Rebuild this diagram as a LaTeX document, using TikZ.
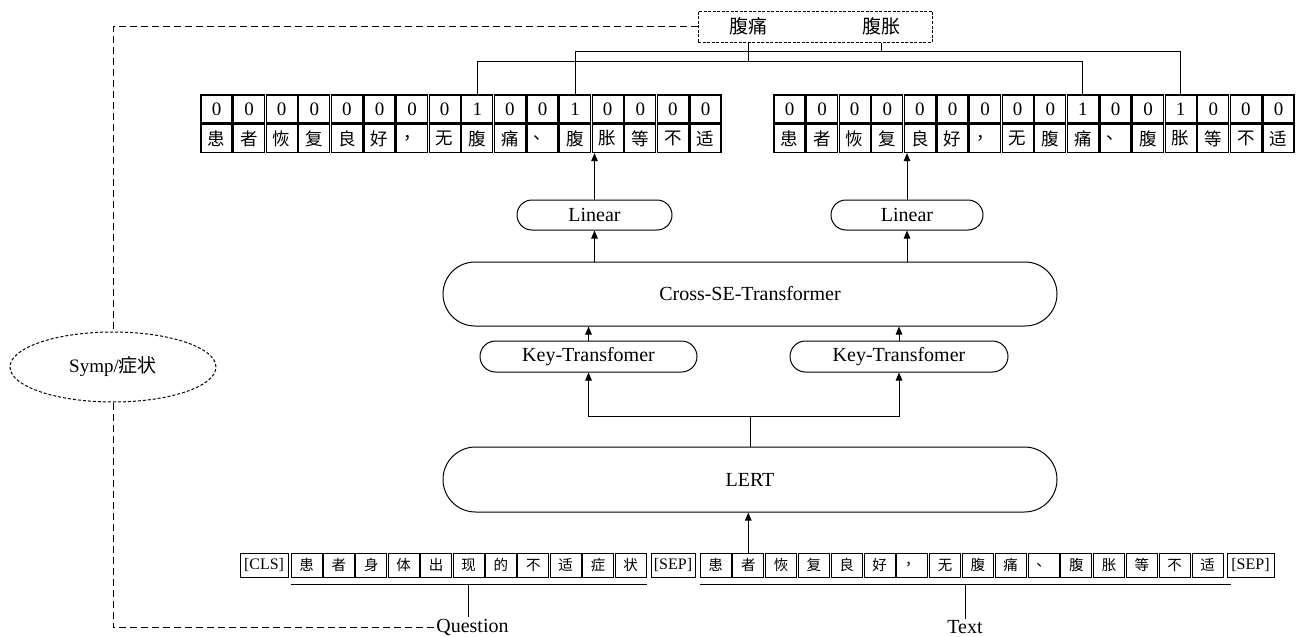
\documentclass[tikz,border=0pt]{standalone}
\usepackage{fontspec}
\setmainfont{Liberation Serif}
\newfontfamily\cjk{Noto Sans CJK SC}
\usetikzlibrary{shapes.misc,shapes.geometric,arrows.meta,calc}
\begin{document}
\begin{tikzpicture}[x=1pt,y=-1pt,
  ln/.style={line width=1pt},
  arr/.style={line width=1pt,-{Triangle[length=8pt,width=6.5pt]}},
  cell/.style={draw,line width=1.2pt,minimum width=31pt,minimum height=28pt,inner sep=0pt,font=\fontsize{19}{19}\selectfont},
  ccell/.style={cell,font=\fontsize{17.5}{17.5}\selectfont\cjk},
  bcell/.style={draw,line width=1pt,minimum width=31pt,minimum height=24pt,inner sep=0pt,font=\fontsize{14.5}{14.5}\selectfont\cjk},
  tcell/.style={bcell,font=\fontsize{16}{16}\selectfont},
  rbox/.style={draw,rounded rectangle,line width=1pt,inner sep=0pt,font=\fontsize{20}{20}\selectfont},
  lab/.style={inner sep=2pt,font=\fontsize{20}{20}\selectfont},
  dsh/.style={line width=1pt,dash pattern=on 7pt off 4pt},
]
\useasboundingbox (0,0) rectangle (1299,637);

% ---- top label box ----
\node[draw,line width=1pt,dash pattern=on 3pt off 1.5pt,minimum width=234pt,minimum height=31pt] (ents) at (815,26.5) {};
\node[lab,font=\fontsize{19}{19}\selectfont\cjk] (t1) at (748,26) {腹痛};
\node[lab,font=\fontsize{19}{19}\selectfont\cjk] (t2) at (881,26) {腹胀};

% ---- top token rows ----
\foreach \d [count=\i from 0] in {0,0,0,0,0,0,0,0,1,0,0,1,0,0,0,0}
  \node[cell] (L\i) at ({216.5+32.6*\i},109) {\d};
\foreach \c [count=\i from 0] in {患,者,恢,复,良,好,，,无,腹,痛,、,腹,胀,等,不,适}
  \node[ccell] (LC\i) at ({216.5+32.6*\i},138.5) {\c};
\foreach \d [count=\i from 0] in {0,0,0,0,0,0,0,0,0,1,0,0,1,0,0,0}
  \node[cell] (R\i) at ({789.5+32.6*\i},109) {\d};
\foreach \c [count=\i from 0] in {患,者,恢,复,良,好,，,无,腹,痛,、,腹,胀,等,不,适}
  \node[ccell] (RC\i) at ({789.5+32.6*\i},138.5) {\c};

% ---- tree from labels to rows ----
\coordinate (h1) at ($(L8.north)+(0,-33)$);
\coordinate (h2) at ($(L11.north)+(0,-43)$);
\draw[ln] (L8.north) -- (h1) -- (h1 -| R9.north) -- (R9.north);
\draw[ln] (L11.north) -- (h2) -- (h2 -| R12.north) -- (R12.north);
\draw[ln] (ents.south -| t1) -- (h1 -| t1);
\draw[ln] (ents.south -| t2) -- (h2 -| t2);

% ---- model blocks ----
\node[rbox,minimum width=155pt,minimum height=30pt] (lin1) at (594.5,215) {Linear};
\node[rbox,minimum width=152pt,minimum height=30pt] (lin2) at (907,215) {Linear};
\draw[arr] (lin1.north) -- (lin1.north |- LC12.south);
\draw[arr] (lin2.north) -- (lin2.north |- RC4.south);

\node[rbox,minimum width=614pt,minimum height=64pt] (cross) at (750,294) {Cross-SE-Transformer};
\draw[arr] (cross.north -| lin1) -- (lin1.south);
\draw[arr] (cross.north -| lin2) -- (lin2.south);

\node[rbox,minimum width=217pt,minimum height=31pt] (key1) at (588.5,356.5) {Key-Transfomer};
\node[rbox,minimum width=218pt,minimum height=31pt] (key2) at (899,356.5) {Key-Transfomer};
\draw[arr] (key1.north) -- (key1.north |- cross.south);
\draw[arr] (key2.north) -- (key2.north |- cross.south);

\node[rbox,minimum width=614pt,minimum height=65pt] (lert) at (750,479.5) {LERT};
\coordinate (j) at ($(lert.north)+(0,-30)$);
\draw[ln] (lert.north) -- (j);
\draw[arr] (j) -| (key1.south);
\draw[arr] (j) -| (key2.south);

% ---- bottom input row ----
\node[tcell,minimum width=48pt] (cls) at (264,565) {[CLS]};
\foreach \c [count=\i from 0] in {患,者,身,体,出,现,的,不,适,症,状}
  \node[bcell] (Q\i) at ({306.5+32.4*\i},565) {\c};
\node[tcell,minimum width=44pt] (sep1) at (673,565) {[SEP]};
\foreach \c [count=\i from 0] in {患,者,恢,复,良,好,，,无,腹,痛,、,腹,胀,等,不,适}
  \node[bcell] (T\i) at ({715.5+32.8*\i},565) {\c};
\node[tcell,minimum width=47pt] (sep2) at (1250.5,565) {[SEP]};

\draw[arr] (T1.north) -- (T1.north |- lert.south);

% ---- underlines and labels ----
\coordinate (qa) at ($(Q0.south west)+(0,7)$);
\coordinate (qb) at (qa -| Q10.south east);
\coordinate (qm) at ($(qa)!0.5!(qb)$);
\draw[ln] (qa) -- (qb);
\node[lab] (qlab) at ($(qm)+(4,43)$) {Question};
\draw[ln] (qm) -- (qm |- qlab.north);

\coordinate (ta) at ($(T0.south west)+(0,7)$);
\coordinate (tb) at ($(sep2.south west)+(4,7)$);
\coordinate (tm) at ($(ta)!0.5!(tb)$);
\draw[ln] (ta) -- (tb);
\node[lab] (tlab) at ($(tm)+(0,43)$) {Text};
\draw[ln] (tm) -- (tm |- tlab.north);

% ---- Symp ellipse and dashed route ----
\node[draw,ellipse,line width=1pt,dash pattern=on 3pt off 2pt,minimum width=206pt,minimum height=70pt,inner sep=0pt,font=\fontsize{19}{19}\selectfont] (symp) at (113,367) {Symp/{\cjk 症状}};
\draw[dsh] (ents.west) -| (symp.north);
\draw[dsh] (symp.south) |- (qlab.west);
\end{tikzpicture}
\end{document}
